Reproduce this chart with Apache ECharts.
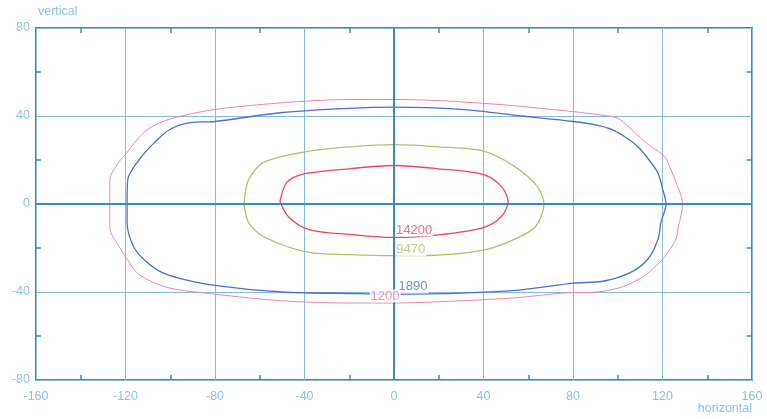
<!DOCTYPE html>
<html>
<head>
<meta charset="utf-8">
<script src="https://cdn.jsdelivr.net/npm/echarts@6/dist/echarts.min.js"></script>
<style>
  html, body { margin: 0; padding: 0; background: #fff; }
  #chart { width: 767px; height: 419px; }
</style>
</head>
<body>
<div id="chart"></div>
<script>
// contour outlines, [horizontal, vertical] in degrees
const contour1200 = [
  [-127, 0], [-127, 11], [-123, 19], [-120, 22.5], [-115, 29], [-110, 34], [-102, 38], [-95, 40],
  [-80, 43], [-50, 46], [-20, 47.5], [0, 47.5], [20, 47], [50, 45], [70, 43], [80, 42],
  [92, 40.5], [100, 39], [105, 35], [109, 31], [115, 26], [121, 21.5], [124, 15], [126, 10],
  [129, 0], [127, -11], [126, -16], [121, -24], [114, -31], [108, -35], [101, -38], [91, -40],
  [75, -40.5], [56, -42.5], [30, -44], [0, -45], [-20, -45], [-50, -44], [-80, -41], [-101, -38],
  [-114, -32], [-120, -24], [-123, -19], [-127, -11], [-127, 0]
];
const contour1890 = [
  [-119.3, 0], [-119, 11], [-114, 20], [-107, 28], [-100, 34], [-91, 37], [-80, 37.5], [-50, 41.6],
  [-20, 43.5], [0, 44], [30, 43], [57, 40], [80, 37.5], [90, 36], [97, 34], [104, 30],
  [109, 26], [114, 20], [118, 14], [120, 7], [121.6, 0], [119.3, -8.4], [118, -16], [113.5, -25],
  [106, -31], [94, -35], [80, -36], [57, -39], [30, -40.5], [0, -41], [-15, -40.7], [-50, -40],
  [-80, -37], [-95, -34], [-104, -31], [-112, -25], [-116.6, -19], [-119.3, -8.4], [-119.3, 0]
];
const contour9470 = [
  [-67, 0], [-65, 11], [-58, 19], [-38, 24], [-20, 26], [0, 27], [20, 26], [40, 24],
  [54, 17], [64, 8], [67, 0], [63.5, -10], [54, -16], [40, -21], [15, -23.4], [0, -23.5],
  [-20, -23], [-38, -22], [-58, -15], [-65, -8.4], [-67, 0]
];
const contour14200 = [
  [-51, 1], [-48, 9.7], [-41.5, 13.4], [-20, 16], [0, 17.5], [20, 16], [40, 13.4], [48, 8],
  [51, 1], [48, -5.7], [40, -10.7], [20, -14], [0, -15.2], [-18, -14], [-38, -11.6], [-47, -6],
  [-51, 1]
];

// contour value labels
const labelNames = ['14200', '9470', '1890', '1200'];
const labelX = [9, 7.5, 8.5, -4];
const labelY = [-11.8, -20.8, -37.6, -41.8];

const xTicks = [-160, 160, 40];
const yTicks = [-80, 80, 40];

const axisBlue = '#3d87c4';
const gridBlue = '#86bbdd';
const textBlue = '#8dc2e2';
const fontName = 'Liberation Sans, Arial, sans-serif';

const lineColors = {
  '1200': '#e985b2',
  '1890': '#4d6fd4',
  '9470': '#a9c56c',
  '14200': '#ee4658'
};

function contourSeries(name, data) {
  return {
    name: name,
    type: 'line',
    data: data,
    smooth: 0.3,
    showSymbol: false,
    silent: true,
    lineStyle: { color: lineColors[name], width: name === '1200' ? 1 : 1.3 },
    z: 3
  };
}

// axis that only draws the small inward ticks on one edge of the box
function edgeAxis(range, pos, labels, split) {
  return {
    type: 'value', min: range[0], max: range[1], interval: range[2],
    position: pos,
    axisLine: { show: false, onZero: false },
    axisTick: { show: false, inside: true },
    minorTick: { show: true, splitNumber: 2, length: 5, lineStyle: { color: axisBlue, width: 1.5 } },
    axisLabel: labels ? { color: textBlue, fontSize: 12.5, margin: pos === 'left' ? 6 : 10 } : { show: false },
    splitLine: { show: split, lineStyle: { color: gridBlue, width: 1 } }
  };
}

const chart = echarts.init(document.getElementById('chart'));

let yLeft = edgeAxis(yTicks, 'left', true, true);
yLeft.name = 'vertical';
yLeft.nameLocation = 'end';
yLeft.nameGap = 10;
yLeft.nameTextStyle = { color: textBlue, fontSize: 12.5, align: 'left', padding: [0, 0, 0, 2] };

chart.setOption({
  animation: false,
  textStyle: { fontFamily: fontName },
  grid: {
    left: 36, right: 15, top: 28, bottom: 39,
    show: true, borderColor: axisBlue, borderWidth: 2
  },
  xAxis: [edgeAxis(xTicks, 'bottom', true, true), edgeAxis(xTicks, 'top', false, false)],
  yAxis: [yLeft, edgeAxis(yTicks, 'right', false, false)],
  graphic: [{
    type: 'text',
    right: 15, top: 402,
    style: { text: 'horizontal', fill: textBlue, fontSize: 12.5, fontFamily: fontName }
  }],
  series: [
    {
      type: 'line',
      data: [],
      silent: true,
      markLine: {
        symbol: 'none',
        silent: true,
        label: { show: false },
        lineStyle: { color: axisBlue, width: 2, type: 'solid' },
        data: [{ xAxis: 0 }, { yAxis: 0 }]
      },
      z: 2
    },
    contourSeries('1200', contour1200),
    contourSeries('1890', contour1890),
    contourSeries('9470', contour9470),
    contourSeries('14200', contour14200),
    {
      type: 'scatter',
      symbolSize: 1,
      itemStyle: { color: 'rgba(0,0,0,0)' },
      silent: true,
      z: 5,
      data: labelNames.map(function (n, i) {
        return {
          name: n,
          value: [labelX[i], labelY[i]],
          label: {
            show: true,
            position: 'inside',
            formatter: '{b}',
            color: lineColors[n],
            fontSize: 13,
            backgroundColor: '#fff',
            padding: [0, 1]
          }
        };
      })
    }
  ]
});
</script>
</body>
</html>
